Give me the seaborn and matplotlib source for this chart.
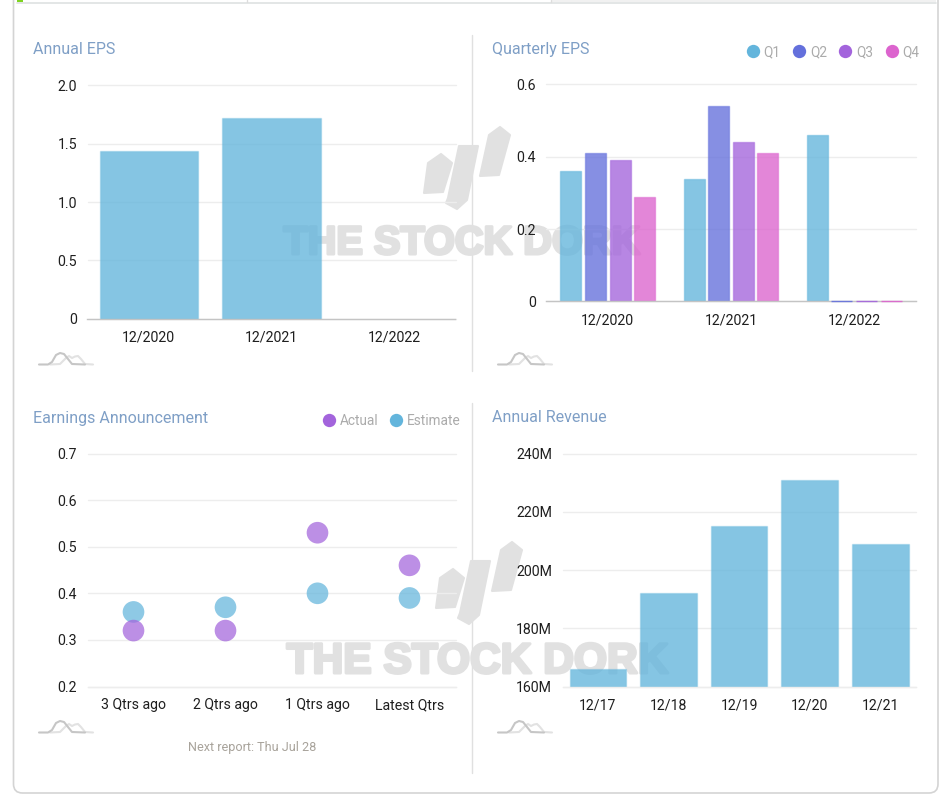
import matplotlib
matplotlib.use("Agg")
import matplotlib.patheffects as pe
import matplotlib.pyplot as plt
import pandas as pd
import seaborn as sns
from matplotlib.colors import to_rgba
from matplotlib.lines import Line2D
from matplotlib.patches import FancyBboxPatch, Polygon
from matplotlib.transforms import Affine2D

# data
annual_years = ["12/2020", "12/2021", "12/2022"]
annual_eps = [1.44, 1.72, 0]

quarter_years = ["12/2020", "12/2021", "12/2022"]
quarters = ["Q1", "Q2", "Q3", "Q4"]
q1_eps = [0.36, 0.34, 0.46]
q2_eps = [0.41, 0.54, 0]
q3_eps = [0.39, 0.44, 0]
q4_eps = [0.29, 0.41, 0]

report_labels = ["3 Qtrs ago", "2 Qtrs ago", "1 Qtrs ago", "Latest Qtrs"]
actual_eps = [0.32, 0.32, 0.53, 0.46]
estimate_eps = [0.36, 0.37, 0.40, 0.39]

revenue_years = ["12/17", "12/18", "12/19", "12/20", "12/21"]
revenue = [166, 192, 215, 231, 209]

BLUE = "#63B5DC"
INDIGO = "#6470DC"
PURPLE = "#A364DC"
PINK = "#DC64CE"
GRID = "#EDEDED"
AXIS = "#C4C4C4"
TITLE = "#7F9FC6"
TICK = "#1F1F1F"
LEGEND_TEXT = "#ABABAB"
WATERMARK = "#E1E1E1"

W, H = 944, 801

sns.set_theme(style="white")
plt.rcParams["font.family"] = ["Roboto", "DejaVu Sans"]

fig = plt.figure(figsize=(W / 100, H / 100), dpi=100, facecolor="white")
# figure space in reference pixels, y going down
px = Affine2D().scale(1 / W, -1 / H).translate(0, 1) + fig.transFigure


def add_axes(left, top, right, bottom):
    ax = fig.add_axes([left / W, 1 - bottom / H, (right - left) / W, (bottom - top) / H])
    ax.patch.set_visible(False)
    return ax


def style_axes(ax, ticks, labels, ylim, base_color):
    ax.set_ylim(*ylim)
    ax.set_yticks(ticks, labels)
    ax.set_xlabel("")
    ax.set_ylabel("")
    ax.set_axisbelow(True)
    ax.grid(axis="y", color=GRID, linewidth=1)
    for line in ax.get_ygridlines():
        line.set_clip_on(False)
    sns.despine(ax=ax, left=True)
    ax.spines["bottom"].set_color(base_color)
    ax.spines["bottom"].set_linewidth(1)
    ax.tick_params(axis="y", length=0, pad=7.5, labelsize=10.2, labelcolor=TICK)
    ax.tick_params(axis="x", length=0, pad=8.5, labelsize=10.2, labelcolor=TICK)


def tint_bars(bars, color, edge_alpha, face_alpha=0.78, show_empty=False):
    for bar in bars:
        bar.set_facecolor(to_rgba(color, face_alpha))
        bar.set_edgecolor(to_rgba(color, edge_alpha))
        bar.set_linewidth(1)
        if bar.get_height() == 0:
            if show_empty:
                # empty quarters still show as a thin coloured line on the axis
                bar.set_edgecolor(to_rgba(color, 0.9))
                bar.set_clip_on(False)
                bar.set_zorder(3)
            else:
                bar.set_visible(False)


def dot_legend(ax, names, colors, anchor, spacing):
    handles = [
        Line2D([], [], linestyle="", marker="o", markersize=9.6, markeredgewidth=0, color=c)
        for c in colors
    ]
    ax.legend(
        handles, names, ncol=len(names), frameon=False, loc="center right",
        bbox_to_anchor=anchor, bbox_transform=px, fontsize=9.8, labelcolor=LEGEND_TEXT,
        handlelength=1, handletextpad=0.3, columnspacing=spacing, borderpad=0, borderaxespad=0,
    )


def mini_icon(dx, dy):
    dark = [(39, 364.5), (48, 364.5), (52, 362), (56, 355), (60, 353), (64, 354),
            (68, 359), (72, 364), (85, 364.5)]
    light = [(50, 364.5), (60, 364), (66, 358), (69, 356), (72, 358), (75, 356.5),
             (78, 356), (81, 359), (85, 364), (93, 364.5)]
    for pts, color in ((light, "#E2E2E2"), (dark, "#C6C6C6")):
        fig.add_artist(Line2D([p[0] + dx for p in pts], [p[1] + dy for p in pts],
                              color=color, linewidth=1.5, transform=px))


def watermark(dx, dy, text_x, text_y, size):
    shapes = [
        [(424, 193), (428, 163), (441, 154), (452, 163), (443, 192)],
        [(459, 146), (478, 146), (467, 200), (457, 209), (446, 203), (448, 198)],
        [(489, 135), (500, 127), (510, 135), (499, 175), (480, 176)],
    ]
    for shape in shapes:
        points = [(x + dx, y + dy) for x, y in shape]
        fig.add_artist(Polygon(points, closed=True, facecolor=WATERMARK, edgecolor=WATERMARK,
                               linewidth=1.5, joinstyle="round", transform=px, zorder=-1))
    label = fig.text(text_x, text_y, "THE STOCK DORK", transform=px, family="Liberation Sans",
                     fontweight="bold", fontsize=size, color=WATERMARK, ha="center", va="center",
                     zorder=-1)
    label.set_path_effects([pe.withStroke(linewidth=2.2, foreground=WATERMARK)])


# card outline, tab strip and separators
fig.add_artist(FancyBboxPatch((13.5, -20), 924.5, 813, boxstyle="round,pad=0,rounding_size=9",
                              facecolor="white", edgecolor="#D4D4D4", linewidth=1.2,
                              transform=px, zorder=-3))
fig.add_artist(Polygon([(551, 0), (936, 0), (936, 2), (551, 2)], facecolor="#F1F1F1",
                       edgecolor="none", transform=px, zorder=-2))
fig.add_artist(Line2D([17, 936], [2.5, 2.5], color="#DEE2E2", linewidth=1.2, transform=px, zorder=-2))
fig.add_artist(Line2D([246.5, 246.5], [0, 2], color="#DDDDDD", linewidth=1, transform=px, zorder=-2))
fig.add_artist(Line2D([551, 551], [0, 2], color="#DDDDDD", linewidth=1, transform=px, zorder=-2))
fig.add_artist(Polygon([(17, 0), (23, 0), (23, 2), (17, 2)], facecolor="#7FD321",
                       edgecolor="none", transform=px))
fig.add_artist(Line2D([471.5, 471.5], [35, 371], color="#E0E0E0", linewidth=1, transform=px, zorder=-2))
fig.add_artist(Line2D([471.5, 471.5], [403, 773], color="#E0E0E0", linewidth=1, transform=px, zorder=-2))

watermark(0, 0, 461.5, 243, 28.6)
watermark(12, 415, 477.5, 662, 30.6)

# Annual EPS
ax1 = add_axes(87.5, 85.5, 455.5, 318.5)
sns.barplot(x=annual_years, y=annual_eps, color=BLUE, width=0.8, saturation=1, ax=ax1)
tint_bars(ax1.containers[0], BLUE, 0.3)
style_axes(ax1, [0, 0.5, 1.0, 1.5, 2.0], ["0", "0.5", "1.0", "1.5", "2.0"], (0, 2), AXIS)

# Quarterly EPS
quarterly = pd.DataFrame({
    "year": quarter_years * 4,
    "quarter": [q for q in quarters for _ in quarter_years],
    "eps": q1_eps + q2_eps + q3_eps + q4_eps,
})
quarter_colors = [BLUE, INDIGO, PURPLE, PINK]
ax2 = add_axes(546.3, 84.5, 915.7, 301.5)
sns.barplot(data=quarterly, x="year", y="eps", hue="quarter", hue_order=quarters,
            palette=quarter_colors, width=0.8, gap=0.15, saturation=1, legend=False, ax=ax2)
for container, color in zip(ax2.containers, quarter_colors):
    tint_bars(container, color, 0.5, show_empty=True)
style_axes(ax2, [0, 0.2, 0.4, 0.6], ["0", "0.2", "0.4", "0.6"], (0, 0.6), AXIS)
dot_legend(ax2, quarters, quarter_colors, (919.5, 52), 0.85)

# Earnings Announcement
announcements = pd.DataFrame({
    "quarter": report_labels * 2,
    "kind": ["Estimate"] * 4 + ["Actual"] * 4,
    "eps": estimate_eps + actual_eps,
})
ax3 = add_axes(87.5, 453.5, 455.5, 686.5)
sns.stripplot(data=announcements, x="quarter", y="eps", hue="kind",
              hue_order=["Estimate", "Actual"], palette=[BLUE, PURPLE], jitter=False,
              size=15.6, linewidth=0, alpha=0.72, legend=False, ax=ax3)
ax3.set_xlim(-0.5, 3.5)
style_axes(ax3, [0.2, 0.3, 0.4, 0.5, 0.6, 0.7],
           ["0.2", "0.3", "0.4", "0.5", "0.6", "0.7"], (0.2, 0.7), GRID)
dot_legend(ax3, ["Actual", "Estimate"], [PURPLE, BLUE], (460.5, 421), 0.8)

# Annual Revenue
ax4 = add_axes(562.5, 453.5, 915.7, 686.5)
sns.barplot(x=revenue_years, y=revenue, color=BLUE, width=0.8, saturation=1, ax=ax4)
tint_bars(ax4.containers[0], BLUE, 0.3)
style_axes(ax4, [160, 180, 200, 220, 240], ["160M", "180M", "200M", "220M", "240M"], (160, 240), GRID)

for x, y, title in [(33, 49.5, "Annual EPS"), (492, 49.5, "Quarterly EPS"),
                    (33, 418, "Earnings Announcement"), (492, 418, "Annual Revenue")]:
    fig.text(x, y, title, transform=px, fontsize=11.5, color=TITLE, ha="left", va="center")

fig.text(252, 748, "Next report: Thu Jul 28", transform=px, fontsize=9.1, color="#A8A39B",
         ha="center", va="center")

for dx, dy in [(0, 0), (459, 0), (0, 368), (459, 368)]:
    mini_icon(dx, dy)

fig.savefig("out.png", dpi=100)
